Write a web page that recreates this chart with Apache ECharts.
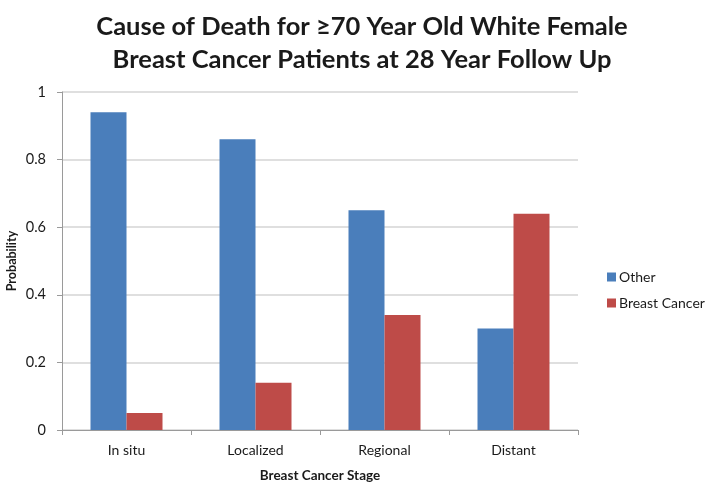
<!DOCTYPE html>
<html>
<head>
<meta charset="utf-8">
<script src="https://cdn.jsdelivr.net/npm/echarts@6/dist/echarts.min.js"></script>
<style>
  html, body { margin: 0; padding: 0; background: #fff; }
  #chart { width: 709px; height: 486px; }
</style>
</head>
<body>
<div id="chart"></div>
<script>
// Breast cancer stages and cause-of-death probabilities
const stages = ['In situ', 'Localized', 'Regional', 'Distant'];
const otherCause = [0.94, 0.86, 0.65, 0.30];
const breastCancer = [0.05, 0.14, 0.34, 0.64];
const yTicks = [0, 0.2, 0.4, 0.6, 0.8, 1];

const FONT = 'Lato, "Open Sans", sans-serif';
const chart = echarts.init(document.getElementById('chart'));

chart.setOption({
  animation: false,
  backgroundColor: '#ffffff',
  title: {
    text: 'Cause of Death for \u226570 Year Old White Female\nBreast Cancer Patients at 28 Year Follow Up',
    left: 357,
    textAlign: 'center',
    top: 5,
    textStyle: {
      fontFamily: FONT,
      fontWeight: 'bold',
      fontSize: 25.5,
      lineHeight: 33,
      color: '#1a1a1a'
    }
  },
  legend: {
    orient: 'vertical',
    left: 602,
    top: 265,
    itemWidth: 9,
    itemHeight: 9,
    itemGap: 12,
    icon: 'rect',
    textStyle: { fontFamily: FONT, fontSize: 14, color: '#1a1a1a', padding: [0, 0, 0, -2] },
    data: ['Other', 'Breast Cancer']
  },
  grid: { left: 62, right: 131, top: 92, bottom: 56, containLabel: false, outerBoundsMode: 'none' },
  xAxis: {
    type: 'category',
    data: stages,
    name: 'Breast Cancer Stage',
    nameLocation: 'middle',
    nameGap: 39,
    nameMoveOverlap: false,
    nameTextStyle: { fontFamily: FONT, fontWeight: 'bold', fontSize: 13.5, color: '#1a1a1a' },
    axisLine: { lineStyle: { color: '#9a9a9a', width: 1 } },
    axisTick: { show: true, length: 5, lineStyle: { color: '#9a9a9a' } },
    axisLabel: { fontFamily: FONT, fontSize: 14, color: '#1a1a1a', margin: 13 }
  },
  yAxis: {
    type: 'value',
    min: yTicks[0],
    max: yTicks[yTicks.length - 1],
    interval: 0.2,
    name: 'Probability',
    nameLocation: 'middle',
    nameGap: 44,
    nameMoveOverlap: false,
    nameRotate: 90,
    nameTextStyle: { fontFamily: FONT, fontWeight: 'bold', fontSize: 12.5, color: '#1a1a1a' },
    axisLine: { show: true, lineStyle: { color: '#9a9a9a', width: 1 } },
    axisTick: { show: true, inside: false, length: 5, lineStyle: { color: '#9a9a9a' } },
    axisLabel: {
      fontFamily: FONT, fontSize: 14.5, color: '#1a1a1a', margin: 16,
      formatter: v => String(Math.round(v * 10) / 10)
    },
    splitLine: { lineStyle: { color: '#d4d4d4', width: 1.5 } }
  },
  series: [
    {
      name: 'Other',
      type: 'bar',
      data: otherCause,
      barWidth: 36,
      barGap: '0%',
      itemStyle: { color: '#4A7EBB' }
    },
    {
      name: 'Breast Cancer',
      type: 'bar',
      data: breastCancer,
      barWidth: 36,
      barGap: '0%',
      itemStyle: { color: '#BE4B48' }
    }
  ]
});
</script>
</body>
</html>
